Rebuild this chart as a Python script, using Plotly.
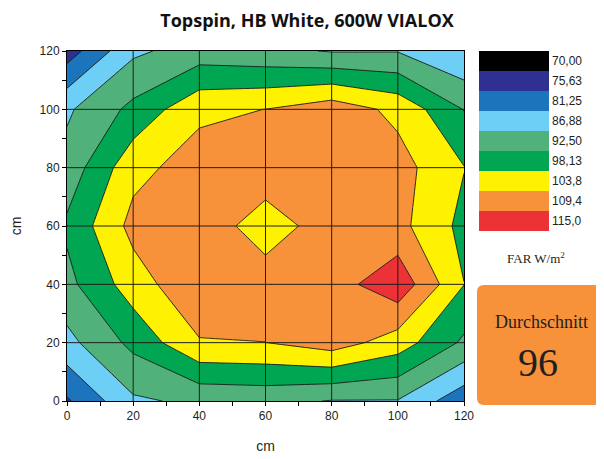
import plotly.graph_objects as go

# ---------------- data ----------------
x_cm = [0, 20, 40, 60, 80, 100, 120]
y_cm = [0, 20, 40, 60, 80, 100, 120]
# FAR values (W/m²), rows from y=0 (bottom) to y=120 (top)
far_values = [
    [74.9, 86.0, 88.0, 88.5, 86.6, 86.6, 77.5],
    [85.2, 94.0, 103.3, 103.7, 106.5, 101.0, 91.5],
    [90.9, 101.0, 108.5, 107.2, 106.8, 113.25, 98.2],
    [93.5, 105.5, 108.0, 100.3, 107.2, 105.5, 96.5],
    [89.0, 102.0, 106.4, 108.0, 108.5, 106.0, 98.3],
    [86.0, 94.0, 102.5, 103.8, 107.0, 102.3, 92.3],
    [72.8, 85.8, 89.4, 88.3, 86.5, 86.6, 81.5],
]
levels = [70.0, 75.625, 81.25, 86.875, 92.5, 98.125, 103.75, 109.375, 115.0]
level_labels = ["70,00", "75,63", "81,25", "86,88", "92,50", "98,13", "103,8", "109,4", "115,0"]
level_colors = ["#000000", "#2E3192", "#1C75BC", "#6DCFF6", "#50B27A",
                "#00A651", "#FFF200", "#F7923A", "#EC3237"]
tick_vals = [0, 20, 40, 60, 80, 100, 120]
title_text = "Topspin, HB White, 600W VIALOX"
unit_label = "FAR W/m<sup>2</sup>"
average_label = "Durchschnitt"
average_value = 96

# ---------------- colour scales ----------------
def stepped(colors):
    n = len(colors)
    cs = []
    for k, c in enumerate(colors):
        lo = max(0.0, (k - 0.5) / (n - 1))
        hi = min(1.0, (k + 0.5) / (n - 1))
        cs.append([lo, c])
        cs.append([hi, c])
    return cs

band_colors = level_colors + [level_colors[-1]]  # band below first level .. above last level
contour_scale = stepped(band_colors)
legend_scale = stepped(level_colors)

step = levels[1] - levels[0]

fig = go.Figure()
fig.add_trace(go.Contour(
    x=x_cm, y=y_cm, z=far_values,
    autocontour=False,
    contours=dict(start=levels[0], end=levels[-1], size=step,
                  coloring="fill", showlines=True),
    colorscale=contour_scale,
    line=dict(color="#1a1a1a", width=0.9, smoothing=0),
    showscale=False,
    hoverinfo="skip",
))

# colour key as a heatmap on its own axes
fig.add_trace(go.Heatmap(
    x=[0], y=level_labels, z=[[v] for v in levels],
    zmin=levels[0], zmax=levels[-1], colorscale=legend_scale,
    showscale=False, xaxis="x2", yaxis="y2", hoverinfo="skip",
))

# page body has an 8px margin: work in screen pixels and shift
OFF = 8
W, H = 604 - OFF, 459 - OFF
ml, mt = 67 - OFF, 51 - OFF
mb = H - (401 - OFF)
mr = 0
pw = W - ml - mr
ph = H - mt - mb

def px_x(p):  # screen px -> paper x
    return (p - OFF - ml) / pw

def px_y(p):  # screen px -> paper y
    return (H - mb - (p - OFF)) / ph

# grid lines drawn above the filled contours
shapes = []
for v in tick_vals[1:-1]:
    shapes.append(dict(type="line", xref="x", yref="y", x0=v, x1=v,
                       y0=tick_vals[0], y1=tick_vals[-1],
                       line=dict(color="#1e1e1e", width=1), layer="above"))
    shapes.append(dict(type="line", xref="x", yref="y", y0=v, y1=v,
                       x0=tick_vals[0], x1=tick_vals[-1],
                       line=dict(color="#1e1e1e", width=1), layer="above"))

# average box (rounded)
bx0, bx1 = px_x(477), px_x(603)
by0, by1 = px_y(405), px_y(285)
rx, ry = 7 / pw, 7 / ph
path = (f"M {bx0+rx},{by0} L {bx1-rx},{by0} Q {bx1},{by0} {bx1},{by0+ry} "
        f"L {bx1},{by1-ry} Q {bx1},{by1} {bx1-rx},{by1} "
        f"L {bx0+rx},{by1} Q {bx0},{by1} {bx0},{by1-ry} "
        f"L {bx0},{by0+ry} Q {bx0},{by0} {bx0+rx},{by0} Z")
shapes.append(dict(type="path", xref="paper", yref="paper", path=path,
                   fillcolor=level_colors[7], line=dict(width=0), layer="below"))

tick_font = dict(family="Liberation Sans, Arial, sans-serif", size=12, color="#231f20")
axis_title_font = dict(family="Liberation Sans, Arial, sans-serif", size=14, color="#231f20")

fig.update_layout(
    width=W, height=H,
    margin=dict(l=ml, r=mr, t=mt, b=mb, autoexpand=False),
    paper_bgcolor="white", plot_bgcolor="white",
    showlegend=False,
    title=dict(text=f"<b>{title_text}</b>", x=(307 - OFF) / W, xref="container",
               xanchor="center", y=1 - (21 - OFF) / H, yanchor="middle",
               font=dict(family="Open Sans, sans-serif", size=18, color="#111")),
    xaxis=dict(domain=[0, px_x(464)], range=[tick_vals[0], tick_vals[-1]],
               tickvals=tick_vals, ticks="outside", ticklen=4, tickcolor="black",
               minor=dict(dtick=10, ticks="outside", ticklen=4, tickcolor="black"),
               showgrid=False, zeroline=False, showline=True, linecolor="black",
               linewidth=1, mirror=True, layer="above traces", tickfont=tick_font,
               automargin=False,
               title=dict(text="cm", standoff=18, font=axis_title_font)),
    yaxis=dict(domain=[0, 1], range=[tick_vals[0], tick_vals[-1]],
               tickvals=tick_vals, ticks="outside", ticklen=4, tickcolor="black",
               minor=dict(dtick=10, ticks="outside", ticklen=4, tickcolor="black"),
               showgrid=False, zeroline=False, showline=True, linecolor="black",
               linewidth=1, mirror=True, layer="above traces", tickfont=tick_font,
               automargin=False,
               title=dict(text="cm", standoff=18, font=axis_title_font)),
    xaxis2=dict(domain=[px_x(479), px_x(549)], range=[-0.5, 0.5], anchor="y2",
                showticklabels=False, ticks="", showgrid=False, zeroline=False,
                showline=False, automargin=False),
    yaxis2=dict(domain=[px_y(231), px_y(51)], anchor="x2", side="right",
                autorange="reversed", ticks="", showgrid=False, zeroline=False,
                showline=False, tickfont=tick_font, ticklabelstandoff=2,
                automargin=False),
    shapes=shapes,
    annotations=[
        dict(text=unit_label, xref="paper", yref="paper", x=px_x(536), y=px_y(258),
             showarrow=False, xanchor="center", yanchor="middle",
             font=dict(family="Liberation Serif, serif", size=13, color="#231f20")),
        dict(text=average_label, xref="paper", yref="paper", x=px_x(541), y=px_y(322),
             showarrow=False, xanchor="center", yanchor="middle",
             font=dict(family="Liberation Serif, serif", size=18, color="#231f20")),
        dict(text=str(average_value), xref="paper", yref="paper", x=px_x(538), y=px_y(362),
             showarrow=False, xanchor="center", yanchor="middle",
             font=dict(family="Liberation Serif, serif", size=40, color="#231f20")),
    ],
)

fig.write_html("out.html")
